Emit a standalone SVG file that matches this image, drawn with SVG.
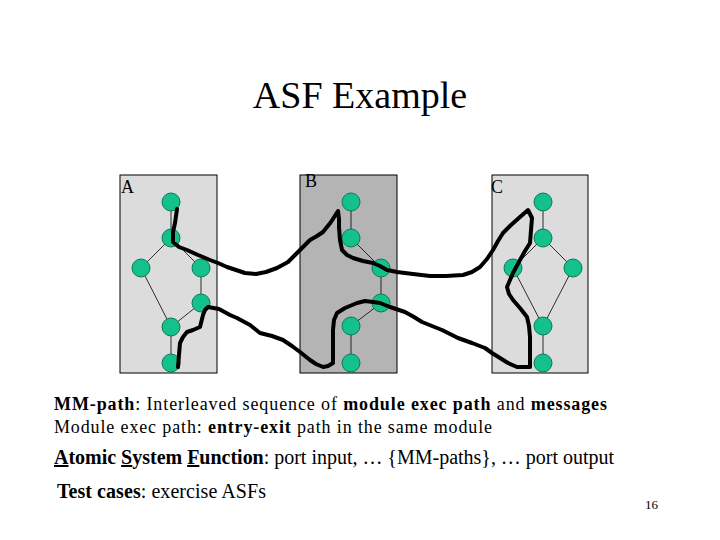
<svg xmlns="http://www.w3.org/2000/svg" width="720" height="540" viewBox="0 0 720 540">
<style>
text{font-family:"Liberation Serif","Times New Roman",Times,serif;fill:#000}
.b{font-weight:bold}
.box{stroke:#000;stroke-width:1}
.n{fill:#14c08c;stroke:#0b7a57;stroke-width:1}
.e{stroke:#000;stroke-width:0.8;fill:none}
.p{stroke:#000;stroke-width:4;fill:none;stroke-linejoin:round;stroke-linecap:round}
</style>
<rect width="720" height="540" fill="#fff"/>
<text x="360" y="108" font-size="38" text-anchor="middle" font-family="Liberation Serif, serif">ASF Example</text>

<g id="moduleA">
<rect class="box" x="120" y="175" width="97" height="198" fill="#dcdcdc"/>
<text x="121" y="193" font-size="18">A</text>
</g>
<g id="moduleB">
<rect class="box" x="300" y="175" width="97" height="198" fill="#b4b4b4"/>
<text x="305" y="187" font-size="18">B</text>
</g>
<g id="moduleC">
<rect class="box" x="492" y="175" width="96" height="198" fill="#dcdcdc"/>
<text x="491" y="193" font-size="18">C</text>
</g>

<g id="edges">
<line class="e" x1="171" y1="202" x2="171" y2="238"/>
<line class="e" x1="171" y1="238" x2="141" y2="268"/>
<line class="e" x1="171" y1="238" x2="201" y2="268"/>
<line class="e" x1="141" y1="268" x2="171" y2="327"/>
<line class="e" x1="201" y1="268" x2="201" y2="303"/>
<line class="e" x1="201" y1="303" x2="171" y2="327"/>
<line class="e" x1="171" y1="327" x2="171" y2="363"/>
<line class="e" x1="351" y1="202" x2="351" y2="238"/>
<line class="e" x1="351" y1="238" x2="381" y2="268"/>
<line class="e" x1="381" y1="268" x2="381" y2="303"/>
<line class="e" x1="381" y1="303" x2="351" y2="326"/>
<line class="e" x1="351" y1="326" x2="351" y2="363"/>
<line class="e" x1="543" y1="202" x2="543" y2="238"/>
<line class="e" x1="543" y1="238" x2="513" y2="268"/>
<line class="e" x1="543" y1="238" x2="573" y2="268"/>
<line class="e" x1="513" y1="268" x2="543" y2="326"/>
<line class="e" x1="573" y1="268" x2="543" y2="326"/>
<line class="e" x1="543" y1="326" x2="543" y2="363"/>
</g>

<g id="A1"><circle class="n" cx="171" cy="202" r="9"/></g>
<g id="A2"><circle class="n" cx="171" cy="238" r="9"/></g>
<g id="A3"><circle class="n" cx="141" cy="268" r="9"/></g>
<g id="A4"><circle class="n" cx="201" cy="268" r="9"/></g>
<g id="A5"><circle class="n" cx="201" cy="303" r="9"/></g>
<g id="A6"><circle class="n" cx="171" cy="327" r="9"/></g>
<g id="A7"><circle class="n" cx="171" cy="363" r="9"/></g>
<g id="B1"><circle class="n" cx="351" cy="202" r="9"/></g>
<g id="B2"><circle class="n" cx="351" cy="238" r="9"/></g>
<g id="B3"><circle class="n" cx="381" cy="268" r="9"/></g>
<g id="B4"><circle class="n" cx="381" cy="303" r="9"/></g>
<g id="B5"><circle class="n" cx="351" cy="326" r="9"/></g>
<g id="B6"><circle class="n" cx="351" cy="363" r="9"/></g>
<g id="C1"><circle class="n" cx="543" cy="202" r="9"/></g>
<g id="C2"><circle class="n" cx="543" cy="238" r="9"/></g>
<g id="C3"><circle class="n" cx="513" cy="268" r="9"/></g>
<g id="C4"><circle class="n" cx="573" cy="268" r="9"/></g>
<g id="C5"><circle class="n" cx="543" cy="326" r="9"/></g>
<g id="C6"><circle class="n" cx="543" cy="363" r="9"/></g>

<g id="connectors">
<polyline class="p" points="177,209 176,216 175,223 173,232 173,242 179,247 187,250 198,255 210,260 218,263 227,267 236,270 245,273 256,274 266,272 277,268 288,262 297,253 304,246 310,240 317,236 323,232 331,222 338,211 339,219 339,227 340,240 342,250 347,255 353,258 363,261 373,263 380,266 387,270 397,272 413,274 430,276 446,276 463,275 472,272 480,267 487,259 493,250 498,241 503,233 511,225 520,217 528,210 532,218 531,230 530,243 525,251 520,260 513,273 507,287 509,294 513,300 520,308 527,317 529,326 530,337 530,352 530,367 523,367 517,367 508,363 500,358 492,353 485,348 472,343 458,338 450,334 442,330 432,326 422,322 414,317 405,312 396,309 390,307 380,303 373,302 365,301 357,303 345,308 337,313 334,320 333,330 333,346 333,363 328,366 323,367 316,364 310,360 305,356 300,352 292,346 283,340 272,336 260,333 255,329 250,325 237,318 230,315 219,309 208,307 205,310 203,315 200,327 193,330 187,332 183,337 180,343 179,355 178,367"/>
</g>

<g id="text">
<text x="54" y="410" font-size="18" textLength="553" lengthAdjust="spacing"><tspan class="b">MM-path</tspan>: Interleaved sequence of <tspan class="b">module exec path</tspan> and <tspan class="b">messages</tspan></text>
<text x="54" y="433" font-size="18" textLength="438" lengthAdjust="spacing">Module exec path: <tspan class="b">entry-exit</tspan> path in the same module</text>
<text x="54" y="464" font-size="20" textLength="560" lengthAdjust="spacing"><tspan class="b" text-decoration="underline">A</tspan><tspan class="b">tomic </tspan><tspan class="b" text-decoration="underline">S</tspan><tspan class="b">ystem </tspan><tspan class="b" text-decoration="underline">F</tspan><tspan class="b">unction</tspan>: port input, … {MM-paths}, … port output</text>
<text x="57" y="498" font-size="20" textLength="209" lengthAdjust="spacing"><tspan class="b">Test cases</tspan>: exercise ASFs</text>
<text x="645" y="509" font-size="13">16</text>
</g>
</svg>
